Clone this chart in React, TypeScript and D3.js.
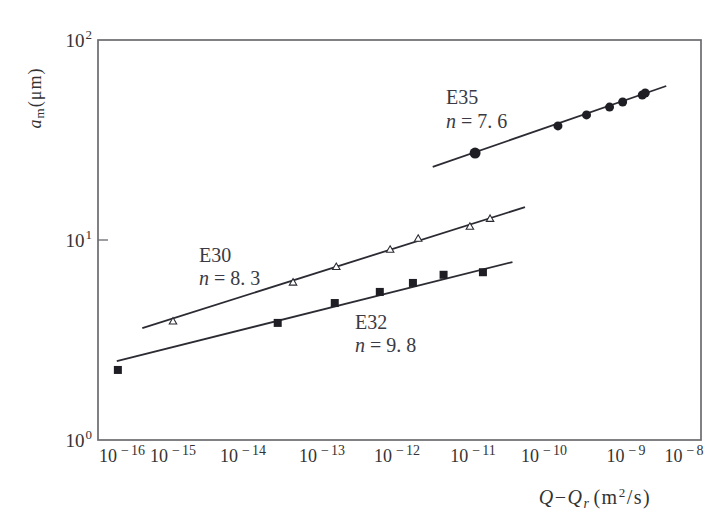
import * as d3 from "d3";

// E30 测点 (Q - Qr, m^2/s ; a_m, μm)
const e30Q = [1.0e-15, 4.3e-14, 1.55e-13, 8.1e-13, 1.9e-12, 9.1e-12, 1.74e-11];
const e30A = [3.9, 6.1, 7.3, 8.9, 10.1, 11.6, 12.7];
const e30FitQ = [2.5e-16, 5.4e-11];
const e30FitA = [3.63, 14.6];

// E32
const e32Q = [8.3e-17, 2.75e-14, 1.48e-13, 5.9e-13, 1.62e-12, 4.1e-12, 1.38e-11];
const e32A = [2.24, 3.85, 4.84, 5.5, 6.1, 6.7, 6.9];
const e32FitQ = [7.9e-17, 3.6e-11];
const e32FitA = [2.48, 7.76];

// E35
const e35Q = [1.07e-11, 1.48e-10, 3.3e-10, 6.3e-10, 9.1e-10, 1.66e-9, 1.82e-9];
const e35A = [27.2, 37.2, 42.2, 46.2, 49, 53.1, 54.3];
const e35FitQ = [2.95e-12, 3.5e-9];
const e35FitA = [23.2, 58.9];

const xDecades = [-16, -15, -14, -13, -12, -11, -10, -9, -8];
const yDecades = [0, 1, 2];

const W = 707;
const H = 511;
const frame = { left: 98, right: 701, top: 40, bottom: 440 };
// 扫描件的横轴刻度间距不均匀, 按图上位置分段映射
const xTickPx = [122, 173, 243, 322, 397, 473, 544, 626, 700];

const ink = "#2b2b33";
const font = "'Liberation Serif', 'DejaVu Serif', serif";

export default function App() {
  const xs = d3.scaleLinear().domain(xDecades).range(xTickPx);
  const x = (q: number) => xs(Math.log10(q));
  const y = d3.scaleLog().domain([1, 100]).range([frame.bottom, frame.top]);

  const line = (qs: number[], as: number[]) =>
    d3.line<number>()
      .x((_, i) => x(qs[i]))
      .y((a) => y(a))(as) as string;

  const tri = d3.symbol().type(d3.symbolTriangle).size(24)() as string;

  return (
    <svg width={W} height={H} style={{ position: "absolute", left: 0, top: 0, background: "#fff" }}>
      {/* 边框 */}
      <rect
        x={frame.left}
        y={frame.top}
        width={frame.right - frame.left}
        height={frame.bottom - frame.top}
        fill="none"
        stroke="#6a6a70"
        strokeWidth={1.7}
      />

      {/* 横轴刻度 */}
      {xDecades.map((d) => (
        <g key={d}>
          {d > -8 && (
            <line x1={xs(d)} x2={xs(d)} y1={frame.bottom} y2={frame.bottom - 11} stroke="#6a6a70" strokeWidth={1.3} />
          )}
          <text
            x={d === -8 ? xs(d) - 16 : xs(d)}
            y={frame.bottom + 22}
            textAnchor="middle"
            fontFamily={font}
            fontSize={18}
            fill="#333"
          >
            10
            <tspan dx={4} dy={-7} fontSize={14}>{"\u2212"}</tspan>
            <tspan dx={2} fontSize={14}>{Math.abs(d)}</tspan>
          </text>
        </g>
      ))}

      {/* 纵轴刻度 */}
      {yDecades.map((d) => (
        <g key={d}>
          {d === 1 && (
            <line x1={frame.left} x2={frame.left + 10} y1={y(10 ** d)} y2={y(10 ** d)} stroke="#6a6a70" strokeWidth={1.3} />
          )}
          <text
            x={frame.left - 6}
            y={y(10 ** d) + 7}
            textAnchor="end"
            fontFamily={font}
            fontSize={19}
            fill="#333"
          >
            10
            <tspan dx={1} dy={-8} fontSize={13}>
              {d}
            </tspan>
          </text>
        </g>
      ))}

      {/* 坐标轴标题 */}
      <text
        transform={`translate(41,${98}) rotate(-90)`}
        textAnchor="middle"
        fontFamily={font}
        fontSize={18}
        letterSpacing={1}
        fill="#333"
      >
        <tspan fontStyle="italic">a</tspan>
        <tspan dy={3} fontSize={13}>m</tspan>
        <tspan dy={-3}>(μm)</tspan>
      </text>
      <text x={595} y={504} textAnchor="middle" fontFamily={font} fontSize={20} letterSpacing={1.5} fill="#333">
        <tspan fontStyle="italic">Q</tspan>
        {"\u2212"}
        <tspan fontStyle="italic">Q</tspan>
        <tspan dy={4} fontSize={14} fontStyle="italic">r</tspan>
        <tspan dx={3} dy={-4}>(m</tspan>
        <tspan dy={-7} fontSize={13}>2</tspan>
        <tspan dy={7}>/s)</tspan>
      </text>

      {/* 拟合线 */}
      <path d={line(e30FitQ, e30FitA)} fill="none" stroke={ink} strokeWidth={1.8} />
      <path d={line(e32FitQ, e32FitA)} fill="none" stroke={ink} strokeWidth={1.8} />
      <path d={line(e35FitQ, e35FitA)} fill="none" stroke={ink} strokeWidth={1.8} />

      {/* E30 空心三角 */}
      {e30Q.map((q, i) => (
        <path key={"a" + i} d={tri} transform={`translate(${x(q)},${y(e30A[i])})`} fill="#fff" stroke={ink} strokeWidth={1.1} />
      ))}

      {/* E32 实心方块 */}
      {e32Q.map((q, i) => (
        <rect key={"b" + i} x={x(q) - 4} y={y(e32A[i]) - 4} width={8} height={8} fill="#1e1e24" />
      ))}

      {/* E35 实心圆点 */}
      {e35Q.map((q, i) => (
        <circle key={"c" + i} cx={x(q)} cy={y(e35A[i])} r={i === 0 ? 5.5 : 4.5} fill="#1e1e24" />
      ))}

      {/* 曲线标注 */}
      <g fontFamily={font} fontSize={20} fill="#3a3a44">
        <text x={446} y={104}>E35</text>
        <text x={446} y={128}>
          <tspan fontStyle="italic">n</tspan> = 7. 6
        </text>
        <text x={199} y={262}>E30</text>
        <text x={199} y={285}>
          <tspan fontStyle="italic">n</tspan> = 8. 3
        </text>
        <text x={355} y={329}>E32</text>
        <text x={355} y={352}>
          <tspan fontStyle="italic">n</tspan> = 9. 8
        </text>
      </g>
    </svg>
  );
}
